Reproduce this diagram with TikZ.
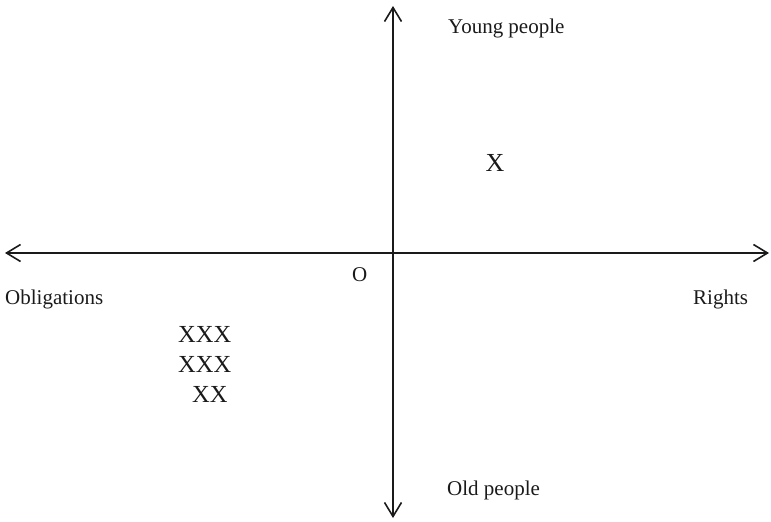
\documentclass[tikz,border=0pt]{standalone}
\usepackage{fontspec}
\setmainfont{Liberation Serif}
\usetikzlibrary{arrows.meta,positioning}
\definecolor{Ink}{HTML}{1A1A1A}

\begin{document}
\begin{tikzpicture}[x=1pt,y=-1pt,
    axis/.style={Ink,line width=1.6pt,
      {Straight Barb[length=14pt,width=17pt,line width=1.6pt]}-{Straight Barb[length=14pt,width=17pt,line width=1.6pt]}},
    lab/.style={font=\fontsize{21}{25}\selectfont,anchor=base west,inner sep=0pt,Ink},
    cross/.style={font=\fontsize{24.5}{29}\selectfont,anchor=base west,inner sep=0pt,Ink}]
  \useasboundingbox (0,0) rectangle (771,522);
  % axes
  \coordinate (west) at (5,253);
  \coordinate (east) at (769,253);
  \coordinate (north) at (393,6);
  \coordinate (south) at (393,518);
  \draw[axis] (west) -- (east);
  \draw[axis] (south) -- (north);
  % axis labels
  \node[lab] (young) at (448,33) {Young people};
  \node[lab] (old) at (447,495) {Old people};
  \node[lab] (oblig) at (5,304) {Obligations};
  \node[lab] (rights) at (693,304) {Rights};
  \node[lab] (origin) at (352,281) {O};
  % marks
  \node[cross,anchor=base,font=\fontsize{26}{30}\selectfont] (single) at (495,171) {X};
  \foreach \r/\txt/\xx in {1/XXX/178,2/XXX/178,3/XX/192}
    \node[cross] (cross\r) at (\xx,{312+30*\r}) {\txt};
\end{tikzpicture}
\end{document}
